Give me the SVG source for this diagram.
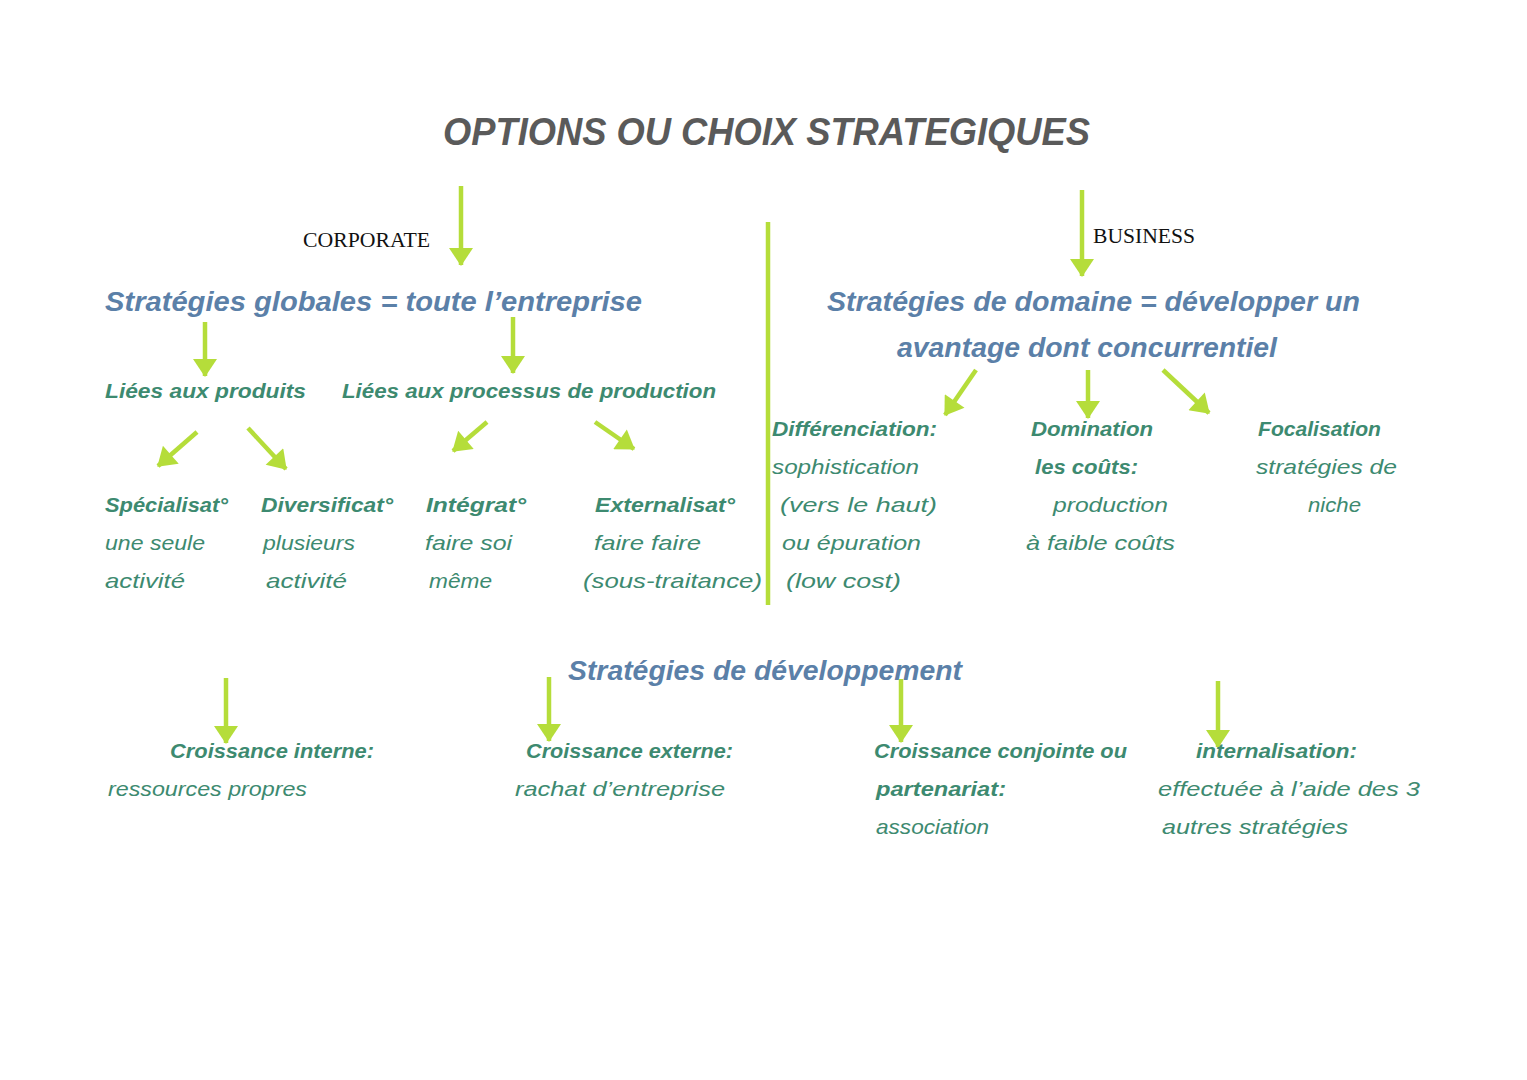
<svg xmlns="http://www.w3.org/2000/svg" width="1527" height="1080" viewBox="0 0 1527 1080">
<defs>
<marker id="ah" markerUnits="userSpaceOnUse" markerWidth="24" markerHeight="24" viewBox="0 0 18 24" refX="17" refY="12" orient="auto">
<path d="M0,0 L18,12 L0,24 z" fill="#b5dd3a"/>
</marker>
<style>
.ttl{font-family:"Liberation Sans",Arial,sans-serif;font-style:italic;font-weight:bold;font-size:38px;fill:#5a5a5a}
.lab{font-family:"Liberation Serif","Times New Roman",serif;font-size:20px;fill:#111}
.blue{font-family:"Liberation Sans",Arial,sans-serif;font-style:italic;font-weight:bold;font-size:28px;fill:#5b80a8}
.th{font-family:"Liberation Sans",Arial,sans-serif;font-style:italic;font-weight:bold;font-size:21px;fill:#3d8a70}
.tn{font-family:"Liberation Sans",Arial,sans-serif;font-style:italic;font-size:21px;fill:#3d8a70}
.arr{stroke:#b5dd3a;stroke-width:4.5;fill:none;marker-end:url(#ah)}
</style>
</defs>
<rect width="1527" height="1080" fill="#ffffff"/>

<g id="title"><text class="ttl" x="443" y="145" textLength="647" lengthAdjust="spacingAndGlyphs">OPTIONS OU CHOIX STRATEGIQUES</text></g>

<g id="connectors">
<line x1="768" y1="222" x2="768" y2="605" stroke="#b5dd3a" stroke-width="4.5"/>
<line class="arr" x1="461" y1="186" x2="461" y2="265"/>
<line class="arr" x1="1082" y1="190" x2="1082" y2="276"/>
<line class="arr" x1="205" y1="322" x2="205" y2="376"/>
<line class="arr" x1="513" y1="317" x2="513" y2="373"/>
<line class="arr" x1="197" y1="432" x2="158" y2="466"/>
<line class="arr" x1="248" y1="428" x2="286" y2="469"/>
<line class="arr" x1="487" y1="422" x2="453" y2="451"/>
<line class="arr" x1="595" y1="422" x2="634" y2="449"/>
<line class="arr" x1="976" y1="370" x2="945" y2="415"/>
<line class="arr" x1="1088" y1="370" x2="1088" y2="418"/>
<line class="arr" x1="1163" y1="370" x2="1209" y2="413"/>
<line class="arr" x1="226" y1="678" x2="226" y2="743"/>
<line class="arr" x1="549" y1="677" x2="549" y2="741"/>
<line class="arr" x1="901" y1="679" x2="901" y2="742"/>
<line class="arr" x1="1218" y1="681" x2="1218" y2="747"/>
</g>

<g id="corporate-label"><text class="lab" x="303" y="247" textLength="127" lengthAdjust="spacingAndGlyphs">CORPORATE</text></g>
<g id="business-label"><text class="lab" x="1093" y="243" textLength="102" lengthAdjust="spacingAndGlyphs">BUSINESS</text></g>

<g id="globales"><text class="blue" x="105" y="311" textLength="537" lengthAdjust="spacingAndGlyphs">Stratégies globales = toute l’entreprise</text></g>
<g id="domaine">
<text class="blue" x="827" y="311" textLength="533" lengthAdjust="spacingAndGlyphs">Stratégies de domaine = développer un</text>
<text class="blue" x="897" y="357" textLength="380" lengthAdjust="spacingAndGlyphs">avantage dont concurrentiel</text>
</g>

<g id="produits"><text class="th" x="105" y="398" textLength="201" lengthAdjust="spacingAndGlyphs">Liées aux produits</text></g>
<g id="processus"><text class="th" x="342" y="398" textLength="374" lengthAdjust="spacingAndGlyphs">Liées aux processus de production</text></g>

<g id="specialisation">
<text class="th" x="105" y="512" textLength="123" lengthAdjust="spacingAndGlyphs">Spécialisat°</text>
<text class="tn" x="105" y="550" textLength="100" lengthAdjust="spacingAndGlyphs">une seule</text>
<text class="tn" x="105" y="588" textLength="80" lengthAdjust="spacingAndGlyphs">activité</text>
</g>
<g id="diversification">
<text class="th" x="261" y="512" textLength="132" lengthAdjust="spacingAndGlyphs">Diversificat°</text>
<text class="tn" x="263" y="550" textLength="92" lengthAdjust="spacingAndGlyphs">plusieurs</text>
<text class="tn" x="266" y="588" textLength="81" lengthAdjust="spacingAndGlyphs">activité</text>
</g>
<g id="integration">
<text class="th" x="426" y="512" textLength="100" lengthAdjust="spacingAndGlyphs">Intégrat°</text>
<text class="tn" x="425" y="550" textLength="87" lengthAdjust="spacingAndGlyphs">faire soi</text>
<text class="tn" x="429" y="588" textLength="63" lengthAdjust="spacingAndGlyphs">même</text>
</g>
<g id="externalisation">
<text class="th" x="595" y="512" textLength="140" lengthAdjust="spacingAndGlyphs">Externalisat°</text>
<text class="tn" x="594" y="550" textLength="107" lengthAdjust="spacingAndGlyphs">faire faire</text>
<text class="tn" x="583" y="588" textLength="179" lengthAdjust="spacingAndGlyphs">(sous-traitance)</text>
</g>

<g id="differenciation">
<text class="th" x="772" y="436" textLength="165" lengthAdjust="spacingAndGlyphs">Différenciation:</text>
<text class="tn" x="772" y="474" textLength="147" lengthAdjust="spacingAndGlyphs">sophistication</text>
<text class="tn" x="780" y="512" textLength="157" lengthAdjust="spacingAndGlyphs">(vers le haut)</text>
<text class="tn" x="782" y="550" textLength="139" lengthAdjust="spacingAndGlyphs">ou épuration</text>
<text class="tn" x="786" y="588" textLength="115" lengthAdjust="spacingAndGlyphs">(low cost)</text>
</g>
<g id="domination">
<text class="th" x="1031" y="436" textLength="122" lengthAdjust="spacingAndGlyphs">Domination</text>
<text class="th" x="1035" y="474" textLength="103" lengthAdjust="spacingAndGlyphs">les coûts:</text>
<text class="tn" x="1053" y="512" textLength="115" lengthAdjust="spacingAndGlyphs">production</text>
<text class="tn" x="1026" y="550" textLength="149" lengthAdjust="spacingAndGlyphs">à faible coûts</text>
</g>
<g id="focalisation">
<text class="th" x="1258" y="436" textLength="123" lengthAdjust="spacingAndGlyphs">Focalisation</text>
<text class="tn" x="1256" y="474" textLength="141" lengthAdjust="spacingAndGlyphs">stratégies de</text>
<text class="tn" x="1308" y="512" textLength="53" lengthAdjust="spacingAndGlyphs">niche</text>
</g>

<g id="developpement"><text class="blue" x="568" y="680" textLength="394" lengthAdjust="spacingAndGlyphs">Stratégies de développement</text></g>

<g id="interne">
<text class="th" x="170" y="758" textLength="204" lengthAdjust="spacingAndGlyphs">Croissance interne:</text>
<text class="tn" x="108" y="796" textLength="199" lengthAdjust="spacingAndGlyphs">ressources propres</text>
</g>
<g id="externe">
<text class="th" x="526" y="758" textLength="207" lengthAdjust="spacingAndGlyphs">Croissance externe:</text>
<text class="tn" x="515" y="796" textLength="210" lengthAdjust="spacingAndGlyphs">rachat d’entreprise</text>
</g>
<g id="conjointe">
<text class="th" x="874" y="758" textLength="253" lengthAdjust="spacingAndGlyphs">Croissance conjointe ou</text>
<text class="th" x="876" y="796" textLength="130" lengthAdjust="spacingAndGlyphs">partenariat:</text>
<text class="tn" x="876" y="834" textLength="113" lengthAdjust="spacingAndGlyphs">association</text>
</g>
<g id="internalisation">
<text class="th" x="1196" y="758" textLength="161" lengthAdjust="spacingAndGlyphs">internalisation:</text>
<text class="tn" x="1158" y="796" textLength="262" lengthAdjust="spacingAndGlyphs">effectuée à l’aide des 3</text>
<text class="tn" x="1162" y="834" textLength="186" lengthAdjust="spacingAndGlyphs">autres stratégies</text>
</g>
</svg>
